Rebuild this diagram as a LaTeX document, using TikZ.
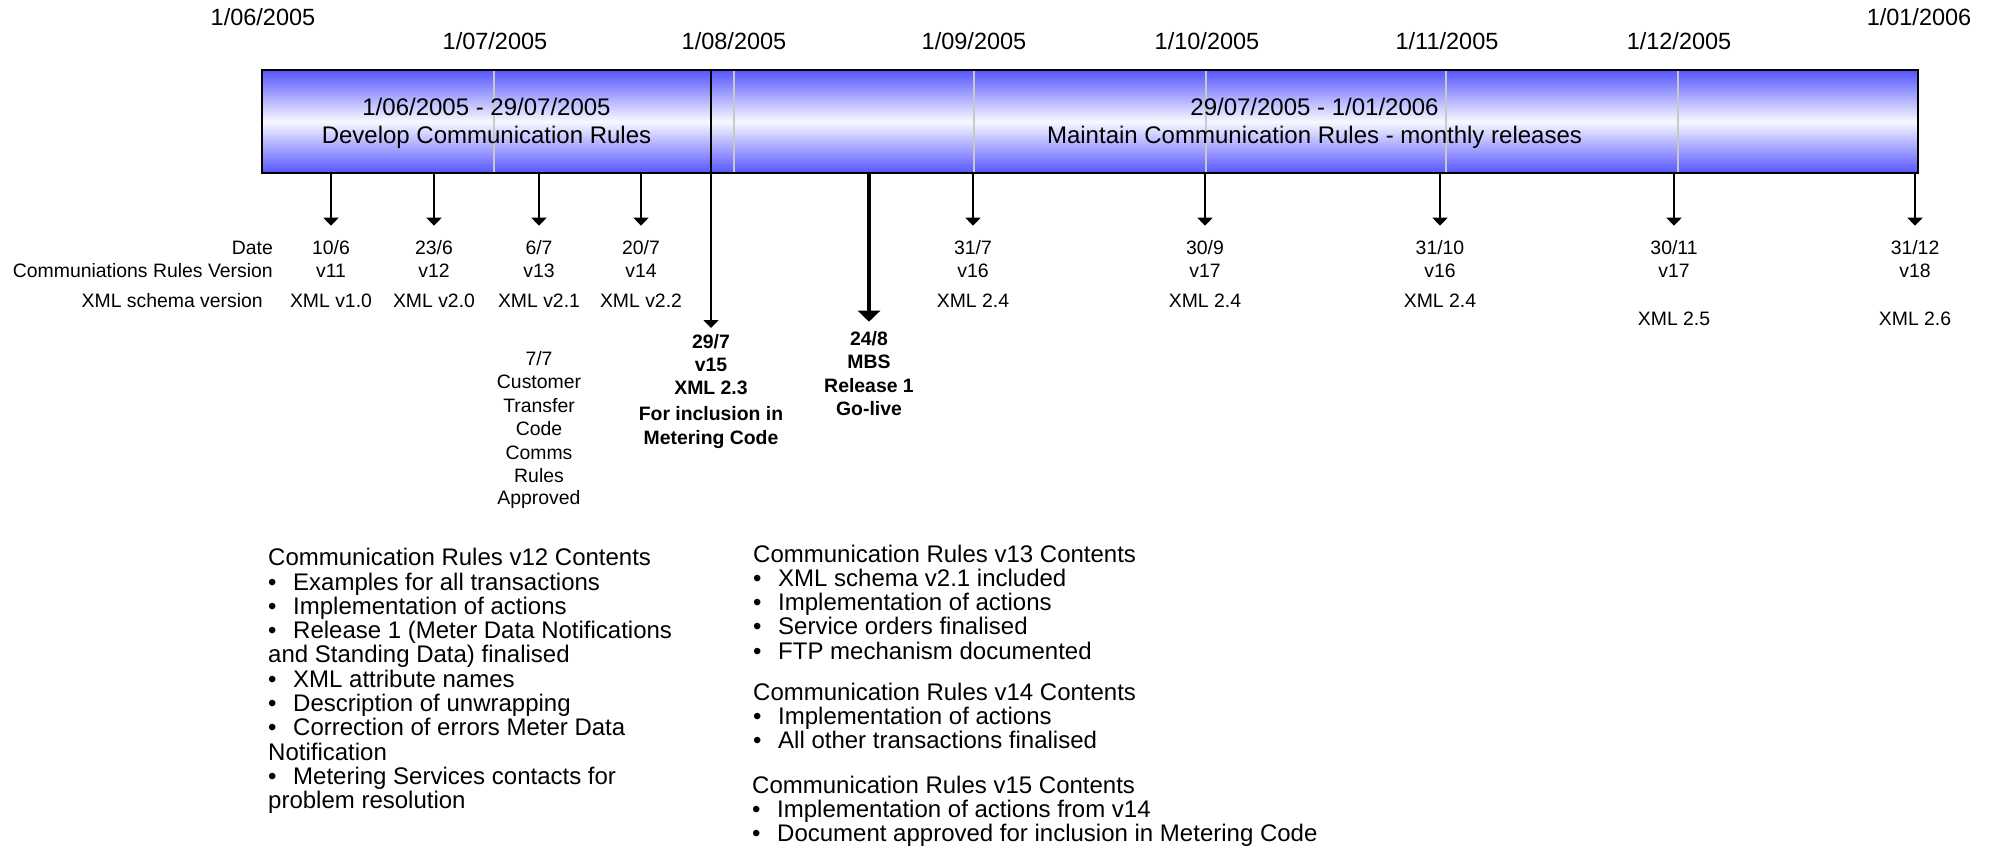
\documentclass[tikz,border=0pt]{standalone}
\usepackage{fontspec}
\setmainfont{Liberation Sans}
\usetikzlibrary{arrows.meta}
\definecolor{bblue}{RGB}{85,85,255}
\definecolor{gridgray}{RGB}{200,200,200}
\newcommand\bl{\textbullet\hspace{16.6pt}}
\tikzset{
  barbox/.style={draw=black, line width=2pt, top color=bblue, bottom color=bblue, middle color=white!96!bblue, inner sep=0pt, outer sep=0pt},
  datelbl/.style={font=\fontsize{23.5}{28}\selectfont, anchor=base, inner sep=0pt},
  bartxt/.style={font=\fontsize{24}{28}\selectfont, anchor=base, inner sep=0pt},
  lbl/.style={font=\fontsize{19.4}{23.5}\selectfont, anchor=base, inner sep=0pt},
  rowlbl/.style={font=\fontsize{19.4}{23.5}\selectfont, anchor=base east, inner sep=0pt},
  lblb/.style={font=\fontsize{19.4}{23.5}\selectfont\bfseries, anchor=base, inner sep=0pt},
  body/.style={font=\fontsize{24}{24.3}\selectfont, anchor=base west, inner sep=0pt},
  gridln/.style={draw=gridgray, line width=1.4pt},
  arr/.style={line width=1.8pt, -{Triangle[width=15pt,length=8pt]}},
  thickarr/.style={line width=4.5pt, -{Triangle[width=22pt,length=11pt]}}
}
\begin{document}
\begin{tikzpicture}[x=1pt,y=-1pt]
\useasboundingbox (0,0) rectangle (1993,849);
% bars
\node[barbox, minimum width=449pt, minimum height=103pt] (dev) at (486.5,121.5) {};
\node[barbox, minimum width=1207pt, minimum height=103pt] (maint) at (1314.5,121.5) {};
% month grid lines
\foreach \gx in {494,734,974,1206,1446,1678}
  \draw[gridln] (\gx,71.2) -- (\gx,171.8);
% top date labels
\node[datelbl] (m6) at (263,25) {1/06/2005};
\node[datelbl] (m7) at (495,49.3) {1/07/2005};
\node[datelbl] (m8) at (734,49.3) {1/08/2005};
\node[datelbl] (m9) at (974,49.3) {1/09/2005};
\node[datelbl] (m10) at (1207,49.3) {1/10/2005};
\node[datelbl] (m11) at (1447,49.3) {1/11/2005};
\node[datelbl] (m12) at (1679,49.3) {1/12/2005};
\node[datelbl] (m1) at (1919,25) {1/01/2006};
% bar texts
\node[bartxt] (devd) at (486.5,115) {1/06/2005 - 29/07/2005};
\node[bartxt] (devt) at (486.5,143) {Develop Communication Rules};
\node[bartxt] (maintd) at (1314.5,115) {29/07/2005 - 1/01/2006};
\node[bartxt] (maintt) at (1314.5,143) {Maintain Communication Rules - monthly releases};
% row labels
\node[rowlbl] (rdate) at (273,254) {Date};
\node[rowlbl] (rver) at (273,277) {Communiations Rules Version};
\node[rowlbl] (rxml) at (263,307) {XML schema version};
% release columns
\foreach \x/\d/\v/\m/\my [count=\i] in {331/10\slash 6/v11/XML v1.0/307, 434/23\slash 6/v12/XML v2.0/307, 539/6\slash 7/v13/XML v2.1/307, 641/20\slash 7/v14/XML v2.2/307, 973/31\slash 7/v16/XML 2.4/307, 1205/30\slash 9/v17/XML 2.4/307, 1440/31\slash 10/v16/XML 2.4/307, 1674/30\slash 11/v17/XML 2.5/325, 1915/31\slash 12/v18/XML 2.6/325}{
  \node[lbl] (dt\i) at (\x,254) {\d};
  \node[lbl] (vr\i) at (\x,277) {\v};
  \node[lbl] (xm\i) at (\x,\my) {\m};
  \coordinate (tip\i) at (\x,225.7);
  \draw[arr] (tip\i |- dev.south) -- (tip\i);
}
% 29/7 separator arrow
\coordinate (tipsep) at (711,328);
\draw[arr] (dev.north east) -- (tipsep);
% thick go-live arrow
\coordinate (tipgo) at (869,321.7);
\draw[thickarr] (tipgo |- dev.south) -- (tipgo);
% 7/7 column
\node[lbl] (ap1) at (539,365) {7/7};
\node[lbl] (ap2) at (539,388) {Customer};
\node[lbl] (ap3) at (539,412) {Transfer};
\node[lbl] (ap4) at (539,435) {Code};
\node[lbl] (ap5) at (539,459) {Comms};
\node[lbl] (ap6) at (539,482) {Rules};
\node[lbl] (ap7) at (539,504) {Approved};
% 29/7 bold
\node[lblb] (sp1) at (711,348) {29/7};
\node[lblb] (sp2) at (711,371) {v15};
\node[lblb] (sp3) at (711,394.3) {XML 2.3};
\node[lblb] (sp4) at (711,420) {For inclusion in};
\node[lblb] (sp5) at (711,444) {Metering Code};
% 24/8 bold
\node[lblb] (gl1) at (869,345) {24/8};
\node[lblb] (gl2) at (869,368) {MBS};
\node[lblb] (gl3) at (869,392) {Release 1};
\node[lblb] (gl4) at (869,415) {Go-live};
% v12 block
\foreach \t [count=\i] in {Communication Rules v12 Contents, \bl Examples for all transactions, \bl Implementation of actions, \bl Release 1 (Meter Data Notifications, and Standing Data) finalised, \bl XML attribute names, \bl Description of unwrapping, \bl Correction of errors Meter Data, Notification, \bl Metering Services contacts for, problem resolution}
  \node[body] (ca\i) at (268,{565.7+(\i-1)*24.3}) {\t};
% v13 block
\foreach \t [count=\i] in {Communication Rules v13 Contents, \bl XML schema v2.1 included, \bl Implementation of actions, \bl Service orders finalised, \bl FTP mechanism documented}
  \node[body] (cb\i) at (753,{562+(\i-1)*24.25}) {\t};
% v14 block
\foreach \t [count=\i] in {Communication Rules v14 Contents, \bl Implementation of actions, \bl All other transactions finalised}
  \node[body] (cc\i) at (753,{700+(\i-1)*24.2}) {\t};
% v15 block
\foreach \t [count=\i] in {Communication Rules v15 Contents, \bl Implementation of actions from v14, \bl Document approved for inclusion in Metering Code}
  \node[body] (cd\i) at (752,{793+(\i-1)*24.2}) {\t};
\end{tikzpicture}
\end{document}
